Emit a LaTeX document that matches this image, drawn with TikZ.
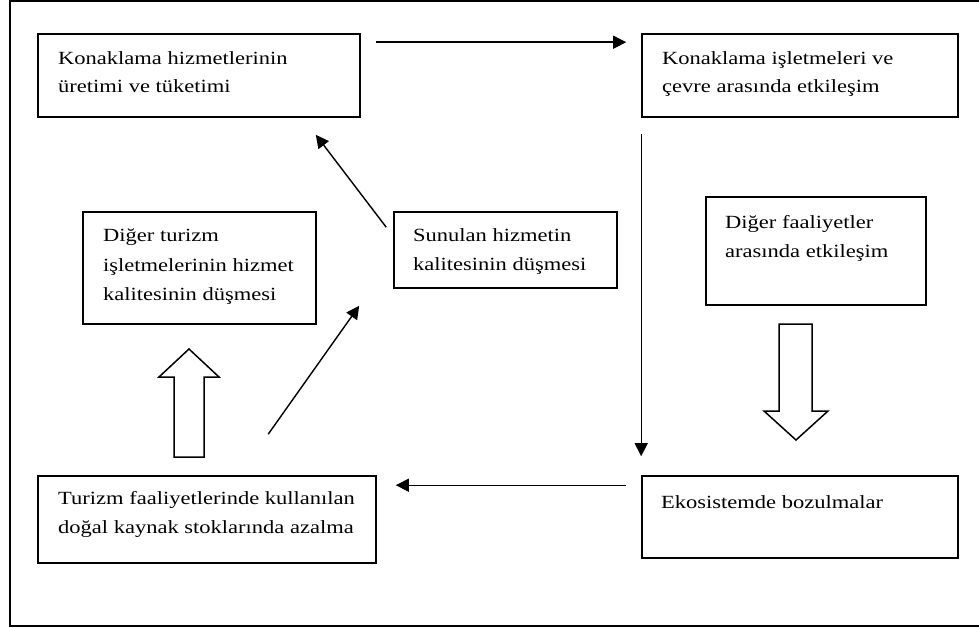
\documentclass[tikz,border=0pt]{standalone}
\usepackage{fontspec}
\setmainfont{Liberation Serif}[FakeStretch=1.21]
\usetikzlibrary{arrows.meta,calc}
\begin{document}
\begin{tikzpicture}[x=1pt,y=-1pt,
  box/.style={draw,line width=1.6pt,inner sep=0pt},
  txt/.style={anchor=base west,inner sep=0pt,font=\fontsize{18.6}{28}\selectfont},
  arr/.style={line width=1.4pt,-{Triangle[length=13pt,width=13pt]}},
  block/.style={draw,line width=1.5pt,fill=white,line join=miter}]
\useasboundingbox (0,0) rectangle (979,628);
\draw[line width=2.2pt] (979,1) -- (10,1) -- (10,626) -- (979,626);

% boxes
\node[box,minimum width=322pt,minimum height=83pt] (b1) at (199,75.5) {};
\node[box,minimum width=316pt,minimum height=83pt] (b2) at (800,75.5) {};
\node[box,minimum width=220pt,minimum height=108pt] (b3) at (816,251) {};
\node[box,minimum width=233pt,minimum height=112pt] (b4) at (199.5,268) {};
\node[box,minimum width=223pt,minimum height=76pt] (b5) at (505.5,250) {};
\node[box,minimum width=338pt,minimum height=87pt] (b6) at (207,519.5) {};
\node[box,minimum width=316pt,minimum height=82pt] (b7) at (800,517) {};

% texts
\node[txt] (t1a) at (58,65) {Konaklama hizmetlerinin};
\node[txt] (t1b) at (58,93) {üretimi ve tüketimi};
\node[txt] (t2a) at (662,65) {Konaklama işletmeleri ve};
\node[txt] (t2b) at (662,93) {çevre arasında etkileşim};
\node[txt] (t3a) at (725,229) {Diğer faaliyetler};
\node[txt] (t3b) at (725,258) {arasında etkileşim};
\node[txt] (t4a) at (103,242) {Diğer turizm};
\node[txt] (t4b) at (103,271) {işletmelerinin hizmet};
\node[txt] (t4c) at (103,300) {kalitesinin düşmesi};
\node[txt] (t5a) at (413,242) {Sunulan hizmetin};
\node[txt] (t5b) at (413,270) {kalitesinin düşmesi};
\node[txt] (t6a) at (58,504) {Turizm faaliyetlerinde kullanılan};
\node[txt] (t6b) at (58,533) {doğal kaynak stoklarında azalma};
\node[txt] (t7a) at (661,508) {Ekosistemde bozulmalar};

% connectors
\draw[arr] ($(b1.north east)+(15,9)$) -- ($(b2.north west)+(-15,9)$);
\draw[arr] ($(b2.south west)+(0,16)$) -- ($(b7.north west)+(0,-19)$);
\draw[arr] ($(b7.north west)+(-15,10)$) -- ($(b6.north east)+(19,10)$);
\draw[arr] ($(b6.north west)+(231,-41)$) -- ($(b5.south west)+(-34,17)$);
\draw[arr] ($(b5.north west)+(-7,16)$) -- ($(b1.south east)+(-45,17)$);

% block arrows
\draw[block] (174,457) -- (174,377) -- (159,377) -- (189,349) -- (219,377) -- (204,377) -- (204,457) -- cycle;
\draw[block] (779,324) -- (779,411) -- (764,411) -- (796,440) -- (828,411) -- (812,411) -- (812,324) -- cycle;
\end{tikzpicture}
\end{document}
